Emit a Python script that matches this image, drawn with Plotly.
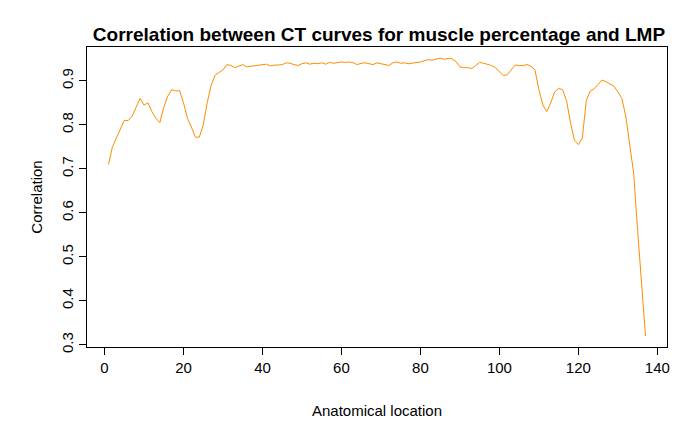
import plotly.graph_objects as go

location = list(range(1, 138))
correlation = [
    0.71, 0.75, 0.77, 0.79, 0.81, 0.81, 0.82, 0.84, 0.86, 0.845,
    0.85, 0.83, 0.815, 0.805, 0.84, 0.865, 0.88, 0.877, 0.878, 0.85,
    0.815, 0.795, 0.772, 0.772, 0.80, 0.85, 0.89, 0.913, 0.92, 0.925,
    0.937, 0.935, 0.93, 0.933, 0.937, 0.932, 0.933, 0.934, 0.935, 0.937,
    0.938, 0.934, 0.936, 0.936, 0.937, 0.941, 0.940, 0.937, 0.935, 0.939,
    0.941, 0.938, 0.940, 0.939, 0.941, 0.938, 0.942, 0.940, 0.942, 0.943,
    0.942, 0.943, 0.941, 0.937, 0.940, 0.941, 0.939, 0.937, 0.941, 0.939,
    0.937, 0.935, 0.941, 0.943, 0.940, 0.941, 0.939, 0.940, 0.942, 0.943,
    0.946, 0.948, 0.947, 0.950, 0.952, 0.949, 0.951, 0.950, 0.944, 0.932,
    0.930, 0.930, 0.928, 0.935, 0.942, 0.940, 0.938, 0.935, 0.930, 0.920,
    0.912, 0.914, 0.925, 0.936, 0.935, 0.935, 0.937, 0.933, 0.925, 0.880,
    0.845, 0.830, 0.850, 0.875, 0.883, 0.880, 0.855, 0.805, 0.765, 0.755,
    0.770, 0.855, 0.877, 0.882, 0.892, 0.902, 0.898, 0.893, 0.888, 0.875,
    0.860, 0.820, 0.760, 0.690, 0.560, 0.430, 0.320,
]

fig = go.Figure(go.Scatter(x=location, y=correlation, mode="lines",
                           line=dict(color="#FF8C00", width=1)))

axis_style = dict(showline=True, linecolor="black", mirror=True, ticks="outside",
                  ticklen=7, tickcolor="black", showgrid=False, zeroline=False,
                  automargin=False, tickfont=dict(size=15, color="black"))

fig.update_layout(
    width=700, height=432, plot_bgcolor="white", paper_bgcolor="white",
    margin=dict(l=79, r=41, t=39, b=93),
    font=dict(family="Liberation Sans, Arial", color="black"),
    title=dict(text="<b>Correlation between CT curves for muscle percentage and LMP</b>",
               x=0.53, xanchor="center", y=0.955, font=dict(size=19)),
    xaxis=dict(range=[-4.44, 142.44], tickvals=[0, 20, 40, 60, 80, 100, 120, 140],
               title=dict(text="Anatomical location", font=dict(size=15), standoff=30),
               **axis_style),
    yaxis=dict(range=[0.295, 0.977], tickvals=[0.3, 0.4, 0.5, 0.6, 0.7, 0.8, 0.9],
               tickangle=-90,
               title=dict(text="Correlation", font=dict(size=15), standoff=12),
               **axis_style),
    showlegend=False,
)

fig.write_html("out.html")
